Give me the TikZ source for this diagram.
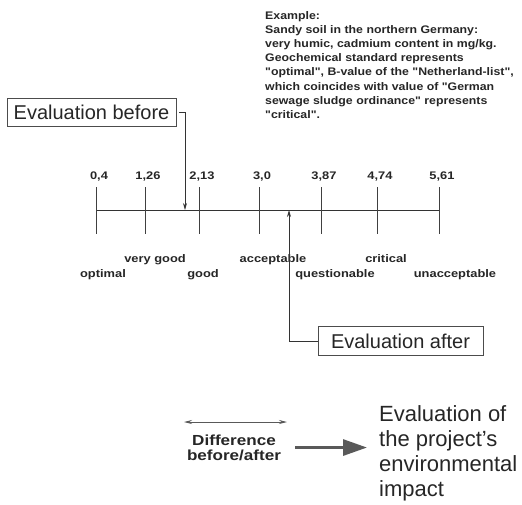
\documentclass[tikz,border=0pt]{standalone}
\usepackage{fontspec}
\setmainfont{Liberation Sans}
\newfontfamily\lblfont[FakeStretch=1.17]{Liberation Sans}
\newfontfamily\notefont[FakeStretch=1.12]{Liberation Sans}
\usetikzlibrary{arrows.meta}
\tikzset{
	axisline/.style={line width=0.9pt, color=black!80},
	tickline/.style={line width=0.9pt, color=black!75},
	numlabel/.style={anchor=base, inner sep=0pt, text=black!85, font=\lblfont\bfseries\fontsize{11}{14.2}\selectfont},
	evalbox/.style={draw=black!70, line width=0.7pt, inner sep=0pt, text=black!85, font=\fontsize{20}{24}\selectfont},
	pointer/.style={line width=0.8pt, color=black!80, -{Stealth[length=7pt,width=4pt]}},
	diffarrow/.style={line width=0.8pt, color=black!65, {Stealth[length=8pt,width=4pt]}-{Stealth[length=8pt,width=4pt]}},
	bigarrow/.style={line width=3pt, color=black!65, -{Triangle[length=24pt,width=16pt]}}
}

\begin{document}
\begin{tikzpicture}[x=1pt, y=-1pt]
			%%%%% START %%%%%
			\useasboundingbox (0, 0) rectangle (522, 504);
			
			\node[numlabel, anchor=north west, align=left, font=\notefont\bfseries\fontsize{11}{14.2}\selectfont] (example) at (265, 11) {Example:\\Sandy soil in the northern Germany:\\very humic, cadmium content in mg/kg.\\Geochemical standard represents\\"optimal", B-value of the "Netherland-list",\\which coincides with value of "German\\sewage sludge ordinance" represents\\"critical".};
			
			% scale
			\draw[axisline] (96, 210) -- (439, 210);
			\foreach \xpos/\val [count=\i] in {96/{0,4}, 145/{1,26}, 199/{2,13}, 259/{3,0}, 321/{3,87}, 377/{4,74}, 439/{5,61}} {
				\draw[tickline] (\xpos, 187) -- (\xpos, 234);
				\node[numlabel] (n\i) at (\xpos + 3, 179) {\val};
			}
			
			\foreach \xpos/\ypos/\name [count=\i] in {103/277/optimal, 155/262/very good, 203/277/good, 273/262/acceptable, 335/277/questionable, 386/262/critical, 455/277/unacceptable} {
				\node[numlabel] (r\i) at (\xpos, \ypos) {\name};
			}
			
			% before and after
			\node[evalbox, minimum width=169pt, minimum height=28pt] (before) at (91.5, 112) {Evaluation before};
			\coordinate (beforept) at (185, 210);
			\draw[pointer] ([xshift=3pt]before.east) -| (beforept);
			
			\node[evalbox, minimum width=165pt, minimum height=29pt] (after) at (400.5, 341) {Evaluation after};
			\coordinate (afterpt) at (289, 210);
			\draw[pointer] (after.west) -| (afterpt);
			
			% result
			\coordinate (diffl) at (184, 422);
			\coordinate (diffr) at (287, 422);
			\draw[diffarrow] (diffl) -- (diffr);
			\node[numlabel, anchor=north, align=center, font=\lblfont\bfseries\fontsize{14.6}{15}\selectfont] (diff) at (234, 434.4) {Difference\\before/after};
			
			\node[anchor=north west, inner sep=0pt, align=left, text=black!85, font=\fontsize{22}{25}\selectfont] (impact) at (379, 405.5) {Evaluation of\\the project's\\environmental\\impact};
			\draw[bigarrow] ([xshift=14pt]diff.east) -- ([xshift=-12pt]diff.east -| impact.west);
			%%%%% END %%%%%
\end{tikzpicture}
\end{document}
